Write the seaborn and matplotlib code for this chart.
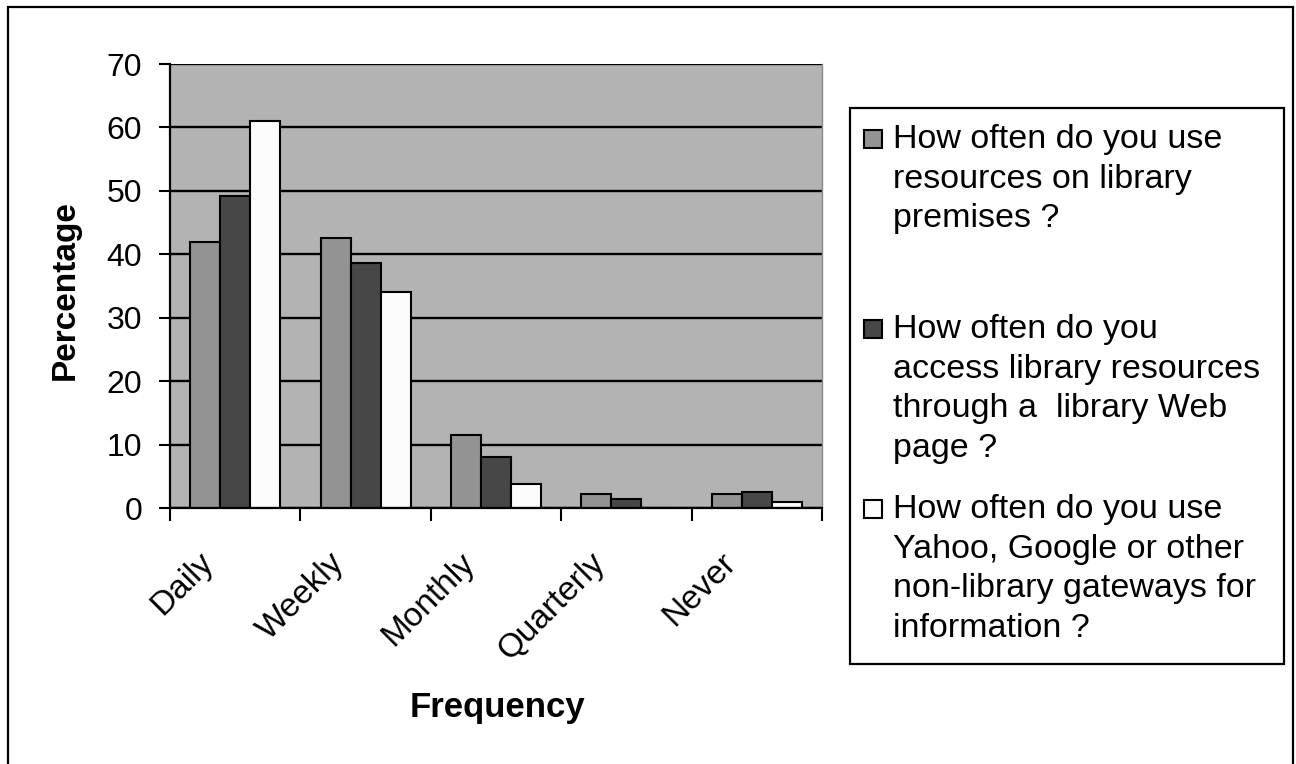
import numpy as np
import pandas as pd
import matplotlib
matplotlib.use("Agg")
import matplotlib.pyplot as plt
import matplotlib.transforms as mtransforms
from matplotlib.patches import Rectangle
import seaborn as sns

# Survey results: share of respondents (%) by frequency of use
frequencies = ["Daily", "Weekly", "Monthly", "Quarterly", "Never"]
questions = [
    "How often do you use\nresources on library\npremises ?",
    "How often do you\naccess library resources\nthrough a  library Web\npage ?",
    "How often do you use\nYahoo, Google or other\nnon-library gateways for\ninformation ?",
]
premises_pct = [42.0, 42.5, 11.5, 2.2, 2.2]
web_page_pct = [49.2, 38.7, 8.0, 1.4, 2.6]
gateway_pct = [61.0, 34.0, 3.8, 0.0, 0.9]
y_ticks = [0, 10, 20, 30, 40, 50, 60, 70]

bar_colors = ["#939393", "#474747", "#fcfcfc"]

df = pd.DataFrame({
    "Frequency": frequencies * 3,
    "Question": [questions[0]] * 5 + [questions[1]] * 5 + [questions[2]] * 5,
    "Percentage": premises_pct + web_page_pct + gateway_pct,
})

plt.rcParams["font.family"] = ["Liberation Sans", "DejaVu Sans"]

W, H = 1296, 764
fig = plt.figure(figsize=(W / 100, H / 100), dpi=100)
fig.patch.set_facecolor("white")

# plot area in pixel coordinates (left, top, right, bottom)
L, T, R, B = 170, 64, 822, 508
ax = fig.add_axes([L / W, 1 - B / H, (R - L) / W, (B - T) / H])
ax.set_facecolor("#b3b3b3")

sns.barplot(
    data=df, x="Frequency", y="Percentage", hue="Question",
    order=frequencies, hue_order=questions, palette=bar_colors,
    edgecolor="black", linewidth=1.5, width=0.69, gap=0,
    legend=False, ax=ax, errorbar=None,
)

ax.set_xlim(-0.5, len(frequencies) - 0.5)
ax.set_ylim(0, 70)
ax.set_axisbelow(True)
ax.set_yticks(y_ticks)
ax.yaxis.grid(True, color="black", linewidth=1.7)
ax.xaxis.grid(False)

ax.spines["top"].set_visible(False)
ax.spines["right"].set_color("#8a8a8a")
ax.spines["right"].set_linewidth(1.0)
for side in ["left", "bottom"]:
    ax.spines[side].set_color("black")
    ax.spines[side].set_linewidth(1.6)

ax.tick_params(axis="y", direction="out", length=8, width=1.5,
               labelsize=23, pad=12, color="black")
# category boundary ticks on x, labels at the category centres
ax.set_xticks(np.arange(-0.5, len(frequencies), 1.0), minor=True)
ax.tick_params(axis="x", which="minor", direction="out", length=9, width=1.5)
ax.tick_params(axis="x", which="major", length=0, labelsize=24, pad=36)
ax.set_xticks(range(len(frequencies)))
ax.set_xticklabels(frequencies, rotation=45, ha="right", va="center",
                   rotation_mode="anchor")
shift = mtransforms.ScaledTranslation(-26 / 100, 0, fig.dpi_scale_trans)
for lab in ax.get_xticklabels():
    lab.set_transform(lab.get_transform() + shift)

ax.set_ylabel("Percentage", fontsize=24, fontweight="bold", va="center")
ax.yaxis.set_label_coords((65 - L) / (R - L), 0.49)
ax.set_xlabel("Frequency", fontsize=25, fontweight="bold", va="center")
ax.xaxis.set_label_coords((497 - L) / (R - L), -(708 - B) / (B - T))


def px_rect(x0, y0, x1, y1, **kw):
    """Rectangle given in figure pixel coordinates (origin top-left)."""
    return Rectangle((x0 / W, 1 - y1 / H), (x1 - x0) / W, (y1 - y0) / H,
                     transform=fig.transFigure, **kw)


# outer chart border
fig.patches.append(px_rect(8, 7, 1293, 790, fill=False, edgecolor="black",
                           linewidth=1.6))

# legend box with one square swatch per series
fig.patches.append(px_rect(850, 108, 1284, 664, facecolor="white",
                           edgecolor="black", linewidth=1.6))
entry_rows = [139, 329, 509]
for label, color, yc in zip(questions, bar_colors, entry_rows):
    fig.patches.append(px_rect(864, yc - 9, 882, yc + 9, facecolor=color,
                               edgecolor="black", linewidth=1.5))
    fig.text(893 / W, 1 - (yc - 15) / H, label, fontsize=24.5, va="top",
             ha="left", linespacing=1.36)

fig.savefig("out.png", dpi=100, facecolor="white")
